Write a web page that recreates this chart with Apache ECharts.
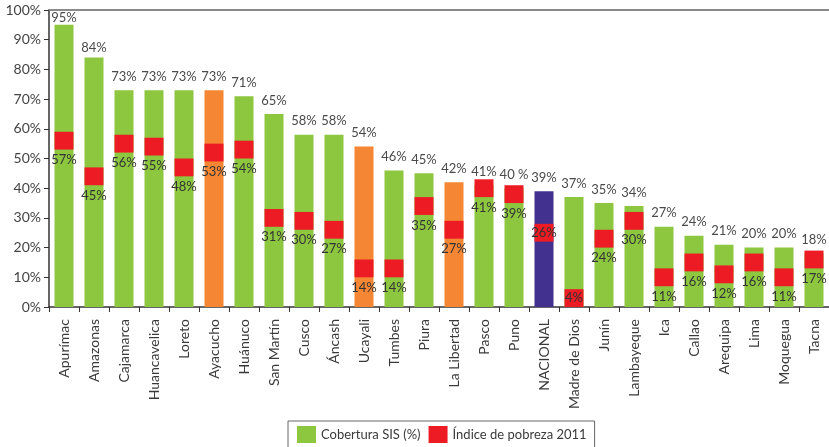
<!DOCTYPE html>
<html>
<head>
<meta charset="utf-8">
<script src="https://cdn.jsdelivr.net/npm/echarts@6/dist/echarts.min.js"></script>
<style>
  html, body { margin: 0; padding: 0; background: #fff; }
  #chart { width: 829px; height: 447px; }
</style>
</head>
<body>
<div id="chart"></div>
<script>
// Regions ordered by SIS coverage
const regions = ['Apurímac', 'Amazonas', 'Cajamarca', 'Huancavelica', 'Loreto', 'Ayacucho', 'Huánuco',
  'San Martín', 'Cusco', 'Áncash', 'Ucayali', 'Tumbes', 'Piura', 'La Libertad', 'Pasco', 'Puno',
  'NACIONAL', 'Madre de Dios', 'Junín', 'Lambayeque', 'Ica', 'Callao', 'Arequipa', 'Lima', 'Moquegua', 'Tacna'];

// Cobertura SIS (%)
const coverage = [95, 84, 73, 73, 73, 73, 71, 65, 58, 58, 54, 46, 45, 42, 41, 40, 39, 37, 35, 34, 27, 24, 21, 20, 20, 18];

// Índice de pobreza 2011 (%)
const poverty = [57, 45, 56, 55, 48, 53, 54, 31, 30, 27, 14, 14, 35, 27, 41, 39, 26, 4, 24, 30, 11, 16, 12, 16, 11, 17];

// y-axis ticks
const yTicks = [0, 10, 20, 30, 40, 50, 60, 70, 80, 90, 100];

const orangeRegions = ['Ayacucho', 'Ucayali', 'La Libertad'];
const nationalRegion = 'NACIONAL';

const GREEN = '#8dc63f', RED = '#ed1c24', ORANGE = '#f58634', PURPLE = '#43318f';
const FONT = 'Lato';
// the poverty marker is a short band around the index value
const BAND_BELOW = 4, BAND_ABOVE = 2;

const coverageData = coverage.map((v, i) => {
  const name = regions[i];
  let color = GREEN;
  if (orangeRegions.includes(name)) color = ORANGE;
  if (name === nationalRegion) color = PURPLE;
  const item = { value: v, itemStyle: { color } };
  if (i === 0) item.label = { distance: 1 };
  if (i === 1) item.label = { distance: 3 };
  return item;
});

const bandBase = poverty.map(p => Math.max(0, p - BAND_BELOW));
const bandSize = poverty.map((p, i) => {
  const item = { value: p + BAND_ABOVE - bandBase[i] };
  if (bandBase[i] === 0 || regions[i] === nationalRegion) {
    item.label = { position: 'inside' };
  }
  return item;
});

const chart = echarts.init(document.getElementById('chart'), null, { renderer: 'canvas' });

chart.setOption({
  animation: false,
  textStyle: { fontFamily: FONT },
  grid: { left: 49, top: 10, width: 781, height: 297, containLabel: false },
  legend: {
    data: ['Cobertura SIS (%)', 'Índice de pobreza 2011'],
    left: 288, top: 421,
    icon: 'rect',
    itemWidth: 19, itemHeight: 17, itemGap: 8,
    padding: [5, 8, 20, 9],
    borderColor: '#666', borderWidth: 1,
    textStyle: { fontFamily: FONT, fontSize: 13, color: '#3a3a3a' }
  },
  xAxis: [{
    type: 'category',
    data: regions,
    axisLine: { lineStyle: { color: '#333', width: 1.5 } },
    axisTick: { show: true, length: 5, lineStyle: { color: '#333' } },
    axisLabel: { rotate: 90, interval: 0, margin: 12, fontFamily: FONT, fontSize: 14, color: '#3a3a3a' }
  }, {
    type: 'category',
    position: 'top',
    data: regions,
    axisLine: { show: true, lineStyle: { color: '#8a8a8a', width: 2 } },
    axisTick: { show: false },
    axisLabel: { show: false }
  }],
  yAxis: {
    type: 'value',
    min: yTicks[0], max: yTicks[yTicks.length - 1], interval: yTicks[1] - yTicks[0],
    axisLine: { show: true, lineStyle: { color: '#333', width: 1.5 } },
    axisTick: { show: true, length: 5, lineStyle: { color: '#333' } },
    splitLine: { show: false },
    axisLabel: { formatter: '{value}%', margin: 8, fontFamily: FONT, fontSize: 14, color: '#444' }
  },
  series: [{
    name: 'Cobertura SIS (%)',
    type: 'bar',
    barWidth: 19,
    barGap: '-100%',
    itemStyle: { color: GREEN },
    data: coverageData,
    label: {
      show: true, position: 'top', distance: 7,
      fontFamily: FONT, fontSize: 13, color: '#4a4a4a',
      formatter: p => (regions[p.dataIndex] === 'Puno' ? p.value + ' %' : p.value + '%')
    }
  }, {
    name: 'base',
    type: 'bar',
    stack: 'pobreza',
    barWidth: 19,
    barGap: '-100%',
    silent: true,
    itemStyle: { color: 'rgba(0,0,0,0)' },
    data: bandBase
  }, {
    name: 'Índice de pobreza 2011',
    type: 'bar',
    stack: 'pobreza',
    barWidth: 19,
    barGap: '-100%',
    itemStyle: { color: RED },
    data: bandSize,
    label: {
      show: true, position: 'bottom', distance: 4,
      fontFamily: FONT, fontSize: 13, color: '#333',
      formatter: p => poverty[p.dataIndex] + '%'
    }
  }]
});
</script>
</body>
</html>
